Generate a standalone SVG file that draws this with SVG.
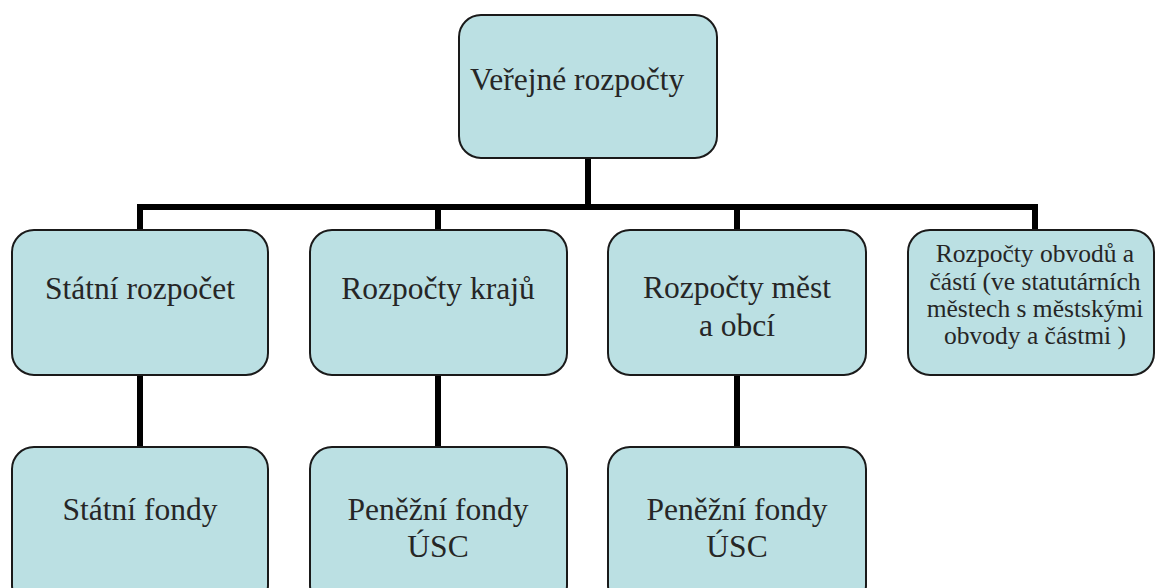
<svg xmlns="http://www.w3.org/2000/svg" width="1155" height="588" viewBox="0 0 1155 588">
<style>
.box{fill:#BBE0E3;stroke:#1a1a1a;stroke-width:2}
.t{font-family:"Liberation Serif","Times New Roman",serif;font-size:31.5px;fill:#262626;text-anchor:middle}
.s{font-size:25.5px}
.c{fill:none;stroke:#000;stroke-width:6;stroke-linejoin:miter}
</style>
<rect width="1155" height="588" fill="#fff"/>
<g id="connectors">
<path class="c" d="M588 158 V207"/>
<path class="c" d="M140 231 V207 H1035 V231"/>
<path class="c" d="M438 207 V231"/>
<path class="c" d="M737 207 V231"/>
<path class="c" d="M140 374 V448"/>
<path class="c" d="M438 374 V448"/>
<path class="c" d="M737 374 V448"/>
</g>
<g id="verejne">
<rect class="box" x="459" y="15" width="258" height="143" rx="22"/>
<text class="t" x="470" y="90" style="text-anchor:start">Veřejné rozpočty</text>
</g>
<g id="statni-rozpocet">
<rect class="box" x="12" y="230" width="256" height="145" rx="22"/>
<text class="t" x="140" y="299">Státní rozpočet</text>
</g>
<g id="kraje">
<rect class="box" x="310" y="230" width="257" height="145" rx="22"/>
<text class="t" x="438" y="299">Rozpočty krajů</text>
</g>
<g id="mesta">
<rect class="box" x="608" y="230" width="258" height="145" rx="22"/>
<text class="t" x="737" y="298">Rozpočty měst</text>
<text class="t" x="737" y="336">a obcí</text>
</g>
<g id="obvody">
<rect class="box" x="908" y="230" width="246" height="145" rx="22"/>
<text class="t s" x="1035" y="262">Rozpočty obvodů a</text>
<text class="t s" x="1035" y="289.5">částí (ve statutárních</text>
<text class="t s" x="1035" y="317">městech s městskými</text>
<text class="t s" x="1035" y="344">obvody a částmi )</text>
</g>
<g id="statni-fondy">
<rect class="box" x="12" y="447" width="256" height="160" rx="22"/>
<text class="t" x="140" y="520">Státní fondy</text>
</g>
<g id="fondy-usc-1">
<rect class="box" x="310" y="447" width="257" height="160" rx="22"/>
<text class="t" x="438" y="520">Peněžní fondy</text>
<text class="t" x="438" y="557">ÚSC</text>
</g>
<g id="fondy-usc-2">
<rect class="box" x="608" y="447" width="258" height="160" rx="22"/>
<text class="t" x="737" y="520">Peněžní fondy</text>
<text class="t" x="737" y="557">ÚSC</text>
</g>
</svg>
